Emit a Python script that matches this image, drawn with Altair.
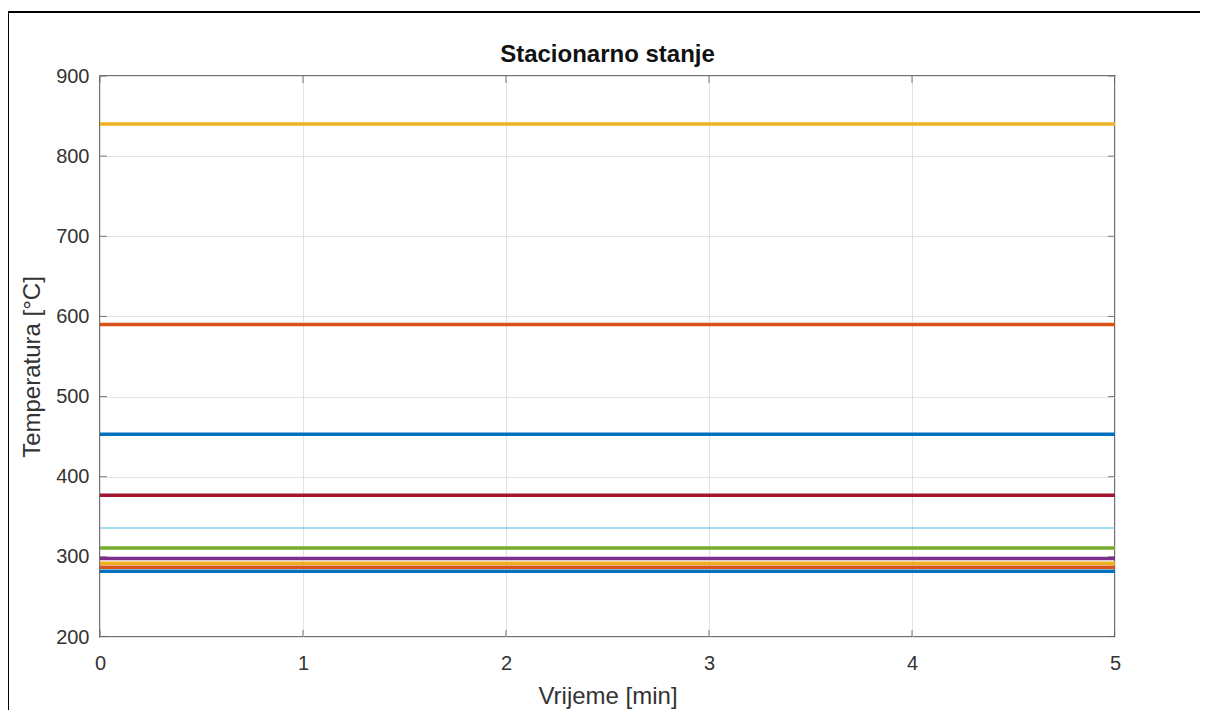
import altair as alt
import pandas as pd

# ---- data ----
series = ["T1", "T2", "T3", "T4", "T5", "T6", "T7", "T8", "T9", "T10"]
temps = [453, 590, 840, 298, 311, 336, 377, 282, 287, 292]
times = [0, 5]
x_ticks = [0, 1, 2, 3, 4, 5]
y_ticks = [200, 300, 400, 500, 600, 700, 800, 900]
title_text = "Stacionarno stanje"

# ---- styles ----
colors = ["#0072BD", "#D95319", "#EDB120", "#7E2F8E", "#77AC30",
          "#4DBEEE", "#A2142F", "#0072BD", "#D95319", "#EDB120"]
thin_series = ["T6"]

rows = []
for i, (s, v) in enumerate(zip(series, temps)):
    for t in times:
        rows.append({"series": s, "order": i, "t": t, "temp": v,
                     "thin": s in thin_series})
df = pd.DataFrame(rows)

W, H = 1015, 561
PL, PT = 92, 68
TOTAL_W, TOTAL_H = 1192, 702

xscale = alt.Scale(domain=[0, 5], nice=False)
yscale = alt.Scale(domain=[200, 900], nice=False)
font = "Liberation Sans"
txt = "#333333"

base = alt.Chart(df).encode(
    x=alt.X("t:Q", scale=xscale,
            axis=alt.Axis(values=x_ticks, title="Vrijeme [min]", format="d")),
    y=alt.Y("temp:Q", scale=yscale,
            axis=alt.Axis(values=y_ticks, title="Temperatura [°C]", format="d",
                          titleY=H / 2 + 10)),
    color=alt.Color("series:N", scale=alt.Scale(domain=series, range=colors), legend=None),
    detail="series:N",
    order="order:Q",
)
thin_lines = base.transform_filter("datum.thin").mark_line(clip=True, strokeWidth=1.2)
thick_lines = base.transform_filter("!datum.thin").mark_line(clip=True, strokeWidth=3.5)

# inward tick marks on all four sides
yt = pd.DataFrame([{"t": x, "temp": v} for v in y_ticks for x in (0, 5)])
xt = pd.DataFrame([{"t": v, "temp": y} for v in x_ticks for y in (200, 900)])
ytick = alt.Chart(yt).mark_tick(orient="horizontal", clip=True, size=14,
                                thickness=1, color="#444444").encode(
    x=alt.X("t:Q", scale=xscale), y=alt.Y("temp:Q", scale=yscale))
xtick = alt.Chart(xt).mark_tick(orient="vertical", clip=True, size=14,
                                thickness=1, color="#444444").encode(
    x=alt.X("t:Q", scale=xscale), y=alt.Y("temp:Q", scale=yscale))

# outer figure frame
frame = alt.Chart(pd.DataFrame({"a": [0]})).mark_rect(
    fill=None, stroke="black", strokeWidth=2).encode(
    x=alt.value(-PL), x2=alt.value(TOTAL_W + 20),
    y=alt.value(-(PT - 4)), y2=alt.value(TOTAL_H + 20))

# chart title as a text mark above the plot area
title = alt.Chart(pd.DataFrame({"label": [title_text]})).mark_text(
    font=font, fontSize=24, fontWeight="bold", color="#111111",
    align="center", baseline="alphabetic").encode(
    text="label:N", x=alt.value(W / 2), y=alt.value(-14))

chart = alt.layer(frame, thin_lines, thick_lines, ytick, xtick, title).properties(
    width=W, height=H,
    autosize=alt.AutoSizeParams(type="none"),
    padding={"left": PL, "top": PT, "right": TOTAL_W - PL - W, "bottom": TOTAL_H - PT - H},
).configure_view(
    stroke="#444444", strokeWidth=1.5
).configure_axis(
    domain=False, ticks=False, grid=True, gridColor="#e2e2e2", gridWidth=1,
    labelFont=font, labelFontSize=20, labelColor=txt, labelFlush=False,
    titleFont=font, titleFontSize=24, titleFontWeight="normal", titleColor=txt,
).configure_axisX(
    labelPadding=16, titlePadding=11
).configure_axisY(
    labelPadding=11, titlePadding=11
)

chart.save("out.html", embed_options={"renderer": "svg", "actions": False})
